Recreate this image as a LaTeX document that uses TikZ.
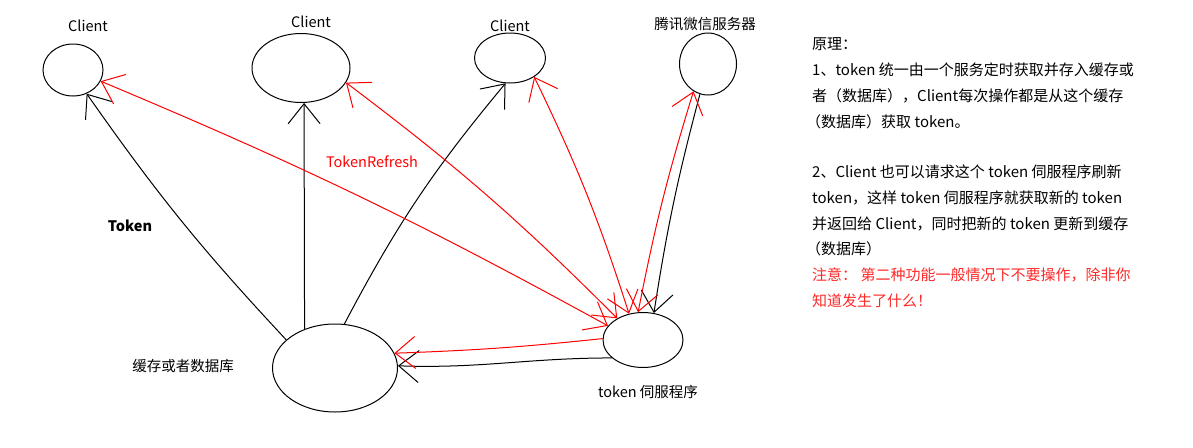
\documentclass[tikz,border=0pt]{standalone}
\usepackage{fontspec}
\newfontfamily\cjk{Noto Sans CJK SC}
\usetikzlibrary{shapes.geometric,arrows.meta}
\definecolor{pen}{RGB}{255,0,0}
\definecolor{redtext}{RGB}{255,40,40}
\tikzset{
  blob/.style={draw=black, line width=1pt, ellipse, inner sep=0pt},
  lbl/.style={font=\cjk\fontsize{14.5}{16}\selectfont, inner sep=0pt},
  txt/.style={font=\cjk\fontsize{15}{16}\selectfont, inner sep=0pt, anchor=west},
  blk/.style={draw=black, line width=1pt, -{Straight Barb[length=20pt,width=32pt,line width=1pt]}},
  rd/.style={draw=pen, line width=1pt, {Straight Barb[length=20pt,width=32pt,line width=1pt]}-{Straight Barb[length=20pt,width=32pt,line width=1pt]}},
  rdone/.style={draw=pen, line width=1pt, -{Straight Barb[length=20pt,width=32pt,line width=1pt]}}
}
\begin{document}
\begin{tikzpicture}[x=1pt,y=-1pt]
\useasboundingbox (0,0) rectangle (1193,447);
% nodes
\node[blob, minimum width=60pt, minimum height=52pt] (c1) at (73,70) {};
\node[blob, minimum width=98pt, minimum height=69pt] (c2) at (301,68) {};
\node[blob, minimum width=71pt, minimum height=50pt] (c3) at (510,58) {};
\node[blob, minimum width=57pt, minimum height=62pt] (wx) at (708,64) {};
\node[blob, minimum width=125pt, minimum height=88pt] (db) at (335,368) {};
\node[blob, minimum width=80pt, minimum height=55pt] (tok) at (643,340) {};
% labels
\node[lbl] (l1) at (88,26) {Client};
\node[lbl] (l2) at (311,22) {Client};
\node[lbl] (l3) at (510,26) {Client};
\node[lbl] (l4) at (705,24) {腾讯微信服务器};
\node[lbl] (l5) at (183,366) {缓存或者数据库};
\node[lbl] (l6) at (648,392) {token 伺服程序};
\node[lbl, font=\cjk\bfseries\fontsize{14.5}{16}\selectfont] (tk) at (130,226) {Token};
\node[lbl, text=pen] (tr) at (372,162) {TokenRefresh};
% black connectors
\draw[blk] (db.150) to[bend left=4] (c1.-60);
\draw[blk] (db.128) to (c2.-85);
\draw[blk] (db.78) to[bend left=6] (c3.-100);
\draw[blk] (wx.-105) to[bend right=3] (tok.68);
\draw[blk] (tok.-150) to[out=180,in=-2] (db.2);
% red connectors
\draw[rdone] (tok.178) to[bend left=2] (db.14);
\draw[rd] (tok.158) to[bend right=3] (c1.-22);
\draw[rd] (tok.140) to[bend right=4] (c2.-18);
\draw[rd] (tok.118) to[bend right=4] (c3.-38);
\draw[rd] (tok.100) to[bend left=3] (wx.-118);
% explanation text
\node[txt] (t1) at (812,44) {原理：};
\node[txt] (t2) at (812,70) {1、token 统一由一个服务定时获取并存入缓存或};
\node[txt] (t3) at (812,96) {者（数据库），Client每次操作都是从这个缓存};
\node[txt] (t4) at (806,122) {（数据库）获取 token。};
\node[txt] (t5) at (812,172) {2、Client 也可以请求这个 token 伺服程序刷新};
\node[txt] (t6) at (812,198) {token，这样 token 伺服程序就获取新的 token};
\node[txt] (t7) at (812,224) {并返回给 Client，同时把新的 token 更新到缓存};
\node[txt] (t8) at (806,249) {（数据库）};
\node[txt, text=redtext] (t9) at (812,275) {注意： 第二种功能一般情况下不要操作，除非你};
\node[txt, text=redtext] (t10) at (812,301) {知道发生了什么！};
\end{tikzpicture}
\end{document}
